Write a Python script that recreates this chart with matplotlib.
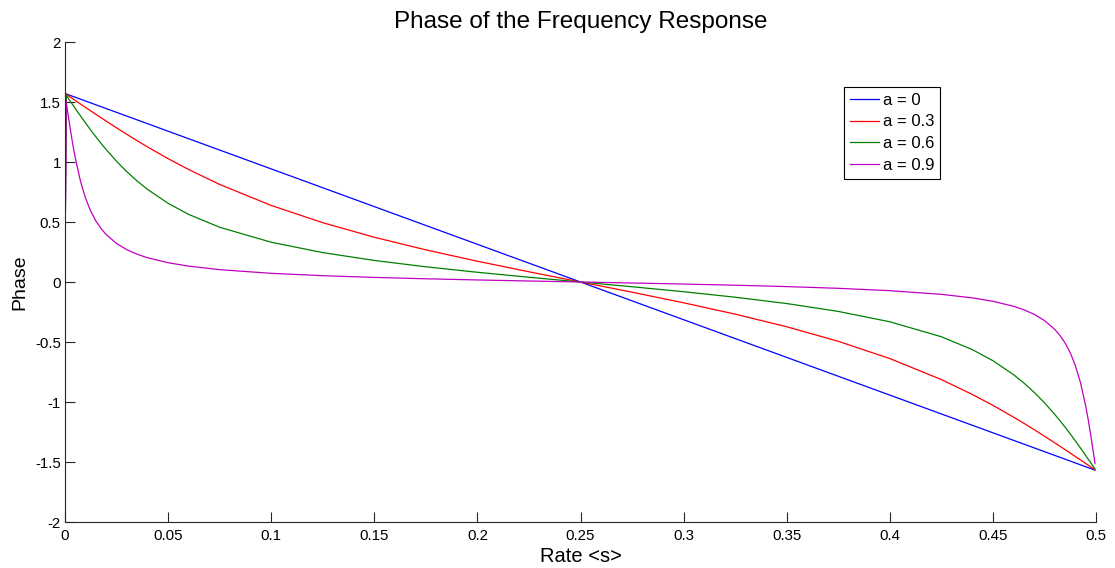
import matplotlib
matplotlib.use("Agg")
import matplotlib.pyplot as plt

plt.rcParams['font.family'] = ['Liberation Sans', 'DejaVu Sans']

# Rate values (x)
rate = [0, 0.0005, 0.001, 0.0025, 0.00375, 0.005, 0.0075, 0.01, 0.0125, 0.015,
        0.0175, 0.02, 0.025, 0.03, 0.035, 0.04, 0.05, 0.06, 0.075, 0.1, 0.125,
        0.15, 0.175, 0.2, 0.225, 0.25,
        0.275, 0.3, 0.325, 0.35, 0.375, 0.4, 0.425, 0.44, 0.45, 0.46, 0.465,
        0.47, 0.475, 0.48, 0.4825, 0.485, 0.4875, 0.49, 0.4925, 0.495, 0.49625,
        0.4975, 0.499, 0.4995]

phase_a0 = [0, 1.5677, 1.5645, 1.5551, 1.5472, 1.5394, 1.5237, 1.5080, 1.4923, 1.4765,
            1.4608, 1.4451, 1.4137, 1.3823, 1.3509, 1.3195, 1.2566, 1.1938, 1.0996, 0.9425,
            0.7854, 0.6283, 0.4712, 0.3142, 0.1571, 0,
            -0.1571, -0.3142, -0.4712, -0.6283, -0.7854, -0.9425, -1.0996, -1.1938, -1.2566,
            -1.3195, -1.3509, -1.3823, -1.4137, -1.4451, -1.4608, -1.4765, -1.4923, -1.5080,
            -1.5237, -1.5394, -1.5472, -1.5551, -1.5645, -1.5677]

phase_a03 = [0, 1.5650, 1.5591, 1.5416, 1.5271, 1.5125, 1.4834, 1.4545, 1.4256, 1.3970,
             1.3687, 1.3404, 1.2848, 1.2304, 1.1771, 1.1260, 1.0278, 0.9371, 0.8131, 0.6379,
             0.4942, 0.3729, 0.2678, 0.1732, 0.0851, 0,
             -0.0851, -0.1732, -0.2678, -0.3729, -0.4942, -0.6379, -0.8131, -0.9371, -1.0278,
             -1.1260, -1.1771, -1.2304, -1.2848, -1.3404, -1.3687, -1.3970, -1.4256, -1.4545,
             -1.4834, -1.5125, -1.5271, -1.5416, -1.5591, -1.5650]

phase_a06 = [0, 1.5582, 1.5457, 1.5080, 1.4768, 1.4458, 1.3843, 1.3243, 1.2656, 1.2094,
             1.1547, 1.1035, 1.0061, 0.9190, 0.8412, 0.7721, 0.6557, 0.5632, 0.4561, 0.3315,
             0.2450, 0.1796, 0.1267, 0.0810, 0.0396, 0,
             -0.0396, -0.0810, -0.1267, -0.1796, -0.2450, -0.3315, -0.4561, -0.5632, -0.6557,
             -0.7721, -0.8412, -0.9190, -1.0061, -1.1035, -1.1547, -1.2094, -1.2656, -1.3243,
             -1.3843, -1.4458, -1.4768, -1.5080, -1.5457, -1.5582]

phase_a09 = [0, 1.5112, 1.4519, 1.2806, 1.1496, 1.0323, 0.8401, 0.6967, 0.5894, 0.5079,
             0.4450, 0.3947, 0.3210, 0.2693, 0.2313, 0.2022, 0.1606, 0.1321, 0.1029, 0.0723,
             0.0526, 0.0382, 0.0268, 0.0171, 0.0083, 0,
             -0.0083, -0.0171, -0.0268, -0.0382, -0.0526, -0.0723, -0.1029, -0.1321, -0.1606,
             -0.2022, -0.2313, -0.2693, -0.3210, -0.3947, -0.4450, -0.5079, -0.5894, -0.6967,
             -0.8401, -1.0323, -1.1496, -1.2806, -1.4519, -1.5112]

labels = ['a = 0', 'a = 0.3', 'a = 0.6', 'a = 0.9']
colors = ['#0000ff', '#ff0000', '#008000', '#bf00bf']

xticks = [0, 0.05, 0.1, 0.15, 0.2, 0.25, 0.3, 0.35, 0.4, 0.45, 0.5]
xticklabels = ['0', '0.05', '0.1', '0.15', '0.2', '0.25', '0.3', '0.35', '0.4', '0.45', '0.5']
yticks = [-2, -1.5, -1, -0.5, 0, 0.5, 1, 1.5, 2]
yticklabels = ['-2', '-1.5', '-1', '-0.5', '0', '0.5', '1', '1.5', '2']

fig = plt.figure(figsize=(11.15, 5.68), dpi=100)
ax = fig.add_axes([65/1115, 1-522/568, (1096-65)/1115, (522-42)/568])

for ys, lab, c in zip([phase_a0, phase_a03, phase_a06, phase_a09], labels, colors):
    ax.plot(rate, ys, color=c, lw=0.9, label=lab)

ax.set_xlim(0, 0.5)
ax.set_ylim(-2, 2)
ax.set_xticks(xticks)
ax.set_xticklabels(xticklabels)
ax.set_yticks(yticks)
ax.set_yticklabels(yticklabels)
ax.spines['top'].set_visible(False)
ax.spines['right'].set_visible(False)
for sp in ['left', 'bottom']:
    ax.spines[sp].set_color('#262626')
    ax.spines[sp].set_linewidth(0.8)
ax.tick_params(direction='in', length=7, width=0.8, color='#262626', labelsize=10.8)
ax.tick_params(axis='x', pad=5)
ax.tick_params(axis='y', pad=3)

ax.set_title('Phase of the Frequency Response', fontsize=17.5, pad=10)
ax.set_xlabel('Rate <s>', fontsize=14.5, labelpad=3)
ax.set_ylabel('Phase', fontsize=14, labelpad=5)

leg = ax.legend(loc='upper right', bbox_to_anchor=((940-65)/(1096-65), (522-87)/480),
                borderaxespad=0, fancybox=False, framealpha=1, edgecolor='black',
                fontsize=12, handlelength=1.75, handletextpad=0.2, labelspacing=0.4,
                borderpad=0.35)
leg.get_frame().set_linewidth(0.8)

fig.savefig('out.png', dpi=100)
